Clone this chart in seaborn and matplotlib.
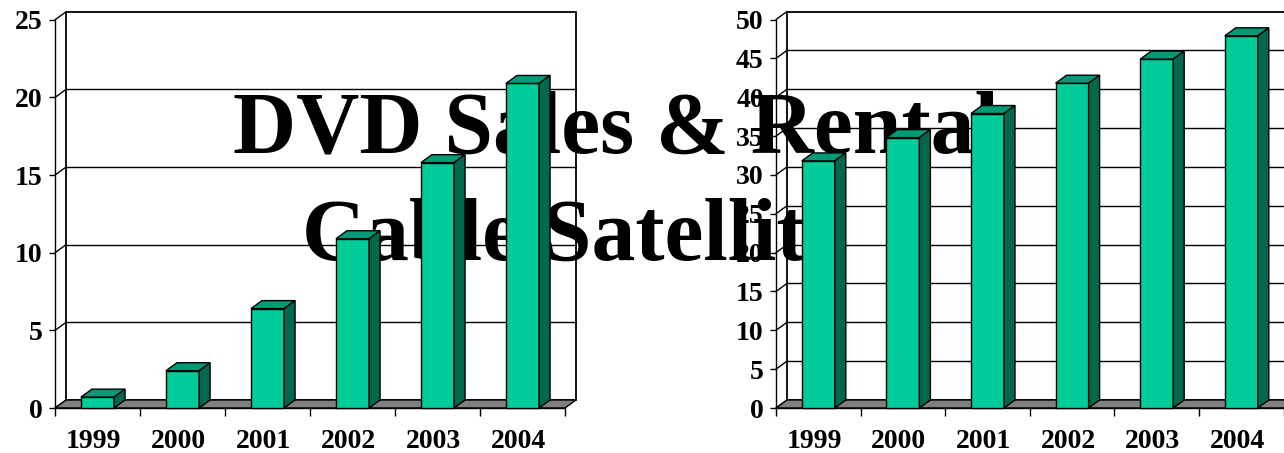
import matplotlib
matplotlib.use("Agg")
import matplotlib.pyplot as plt
from matplotlib.patches import Polygon, Rectangle
from matplotlib.transforms import Bbox, ScaledTranslation
import seaborn as sns

# ---- data ----
years = ["1999", "2000", "2001", "2002", "2003", "2004"]
dvd_values = [0.7, 2.4, 6.4, 10.9, 15.8, 20.9]
cable_values = [31.8, 34.8, 37.9, 41.8, 44.9, 47.9]
dvd_ticks = [0, 5, 10, 15, 20, 25]
cable_ticks = [0, 5, 10, 15, 20, 25, 30, 35, 40, 45, 50]
title_line1 = "DVD Sales & Rental"
title_line2 = "Cable Satellite"

# ---- style ----
sns.set_style("white")
plt.rcParams["font.family"] = ["Liberation Serif", "DejaVu Serif"]
FRONT = "#00CC99"
TOP = "#009B76"
SIDE = "#00684E"
FLOOR = "#808080"

W, H = 1284, 453
fig = plt.figure(figsize=(W / 100, H / 100), dpi=100)
fig.patch.set_facecolor("white")


def px_axes(x0, x1, yb, yt):
    return fig.add_axes([x0 / W, 1 - yb / H, (x1 - x0) / W, (yb - yt) / H])


DXP, DYP = 11, 8  # depth offset in pixels
LABEL_SIZE = 20


def draw_chart(ax, values, ticks):
    ymax = ticks[-1]
    sns.barplot(x=years, y=values, ax=ax, color=FRONT, saturation=1,
                edgecolor="black", linewidth=1, width=0.39, zorder=3)
    bars = list(ax.patches)
    ax.set_xlim(-0.5, 5.5)
    ax.set_ylim(0, ymax)
    ax.set_xlabel("")
    ax.set_ylabel("")
    ax.patch.set_visible(False)
    ax.grid(False)

    wpx = ax.get_position().width * W
    hpx = ax.get_position().height * H
    ddx = DXP / wpx * 6.0
    ddy = DYP / hpx * ymax

    # back wall
    ax.add_patch(Rectangle((-0.5 + ddx, ddy), 6, ymax, facecolor="white",
                           edgecolor="black", lw=1.3, zorder=0.5, clip_on=False))
    for v in ticks[1:-1]:
        ax.plot([-0.5 + ddx, 5.5 + ddx], [v + ddy, v + ddy], color="black",
                lw=1.0, zorder=1, clip_on=False)
    # side wall diagonals
    for v in ticks:
        ax.plot([-0.5, -0.5 + ddx], [v, v + ddy], color="black", lw=1.0,
                zorder=1, clip_on=False)
    # floor
    ax.add_patch(Polygon([(-0.5, 0), (5.5, 0), (5.5 + ddx, ddy), (-0.5 + ddx, ddy)],
                         closed=True, facecolor=FLOOR, edgecolor="black", lw=1.0,
                         zorder=1.5, clip_on=False))

    # 3d faces of the bars
    for b in bars:
        x0 = b.get_x()
        x1 = x0 + b.get_width()
        h = b.get_height()
        ax.add_patch(Polygon([(x0, h), (x1, h), (x1 + ddx, h + ddy), (x0 + ddx, h + ddy)],
                             closed=True, facecolor=TOP, edgecolor="black", lw=1.0,
                             zorder=3.1, clip_on=False))
        ax.add_patch(Polygon([(x1, 0), (x1 + ddx, ddy), (x1 + ddx, h + ddy), (x1, h)],
                             closed=True, facecolor=SIDE, edgecolor="black", lw=1.0,
                             zorder=3.1, clip_on=False))
        b.set_clip_on(False)

    for s in ["top", "right"]:
        ax.spines[s].set_visible(False)
    for s in ["left", "bottom"]:
        ax.spines[s].set_color("black")
        ax.spines[s].set_linewidth(1.0)

    ax.set_yticks(ticks)
    ax.set_yticklabels([str(t) for t in ticks], fontsize=LABEL_SIZE, fontweight="bold")
    ax.tick_params(axis="y", length=4.3, width=1, pad=4.5, colors="black",
                   direction="out", left=True)
    ax.set_xticks(range(6))
    ax.set_xticklabels(years, fontsize=LABEL_SIZE, fontweight="bold")
    ax.set_xticks([i - 0.5 for i in range(7)], minor=True)
    ax.tick_params(axis="x", which="major", length=0, pad=15, colors="black")
    ax.tick_params(axis="x", which="minor", length=5.8, width=1, color="black",
                   direction="out", bottom=True)
    shift = ScaledTranslation(-4 / 100, 0, fig.dpi_scale_trans)
    for lab in ax.get_xticklabels():
        lab.set_transform(lab.get_transform() + shift)


ax1 = px_axes(55, 565, 408, 19.8)
ax2 = px_axes(776, 1283.6, 408, 19.5)
draw_chart(ax1, dvd_values, dvd_ticks)
draw_chart(ax2, cable_values, cable_ticks)

# title: drawn in both axes so it sits above gridlines and below bars
clip_regions = [Bbox.from_extents(0, 0, 680, H), Bbox.from_extents(680, 0, W, H)]
for ax, clip in zip([ax1, ax2], clip_regions):
    for txt, xpx, ypx in [(title_line1, 233, 152), (title_line2, 302, 260)]:
        t = ax.text(xpx / W, 1 - ypx / H, txt, transform=fig.transFigure,
                    fontsize=63, fontweight="bold", color="black",
                    ha="left", va="baseline", zorder=2)
        t.set_clip_on(True)
        t.set_clip_box(clip)

fig.savefig("out.png", dpi=100, facecolor="white")
